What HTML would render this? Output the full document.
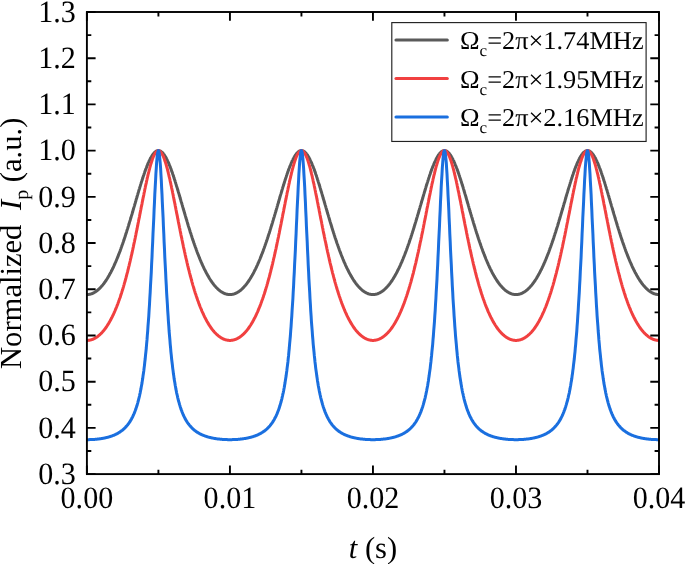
<!DOCTYPE html>
<html><head><meta charset="utf-8"><title>chart</title>
<style>
html,body{margin:0;padding:0;background:#fff;}
body{width:685px;height:564px;overflow:hidden;font-family:"Liberation Serif",serif;}
svg{display:block;will-change:transform;}
text{font-family:"Liberation Serif",serif;fill:#000;text-rendering:geometricPrecision;}
</style></head><body>
<svg width="685" height="564" viewBox="0 0 685 564">
<rect width="685" height="564" fill="#fff"/>
<defs><clipPath id="c"><rect x="86.90" y="12.00" width="572.10" height="462.10"/></clipPath></defs>
<g clip-path="url(#c)" fill="none" stroke-width="3.0" stroke-linejoin="round">
<path d="M86.9,294.6L87.3,294.6L87.6,294.6L88.0,294.5L88.3,294.5L88.7,294.5L89.0,294.4L89.4,294.3L89.8,294.3L90.1,294.2L90.5,294.1L90.8,294.0L91.2,293.9L91.5,293.8L91.9,293.6L92.3,293.5L92.6,293.3L93.0,293.2L93.3,293.0L93.7,292.8L94.1,292.6L94.4,292.4L94.8,292.2L95.1,292.0L95.5,291.8L95.8,291.5L96.2,291.3L96.6,291.0L96.9,290.8L97.3,290.5L97.6,290.2L98.0,289.9L98.3,289.6L98.7,289.3L99.1,288.9L99.4,288.6L99.8,288.2L100.1,287.9L100.5,287.5L100.8,287.1L101.2,286.7L101.6,286.3L101.9,285.9L102.3,285.5L102.6,285.1L103.0,284.6L103.3,284.2L103.7,283.7L104.1,283.2L104.4,282.8L104.8,282.3L105.1,281.8L105.5,281.2L105.9,280.7L106.2,280.2L106.6,279.6L106.9,279.1L107.3,278.5L107.6,277.9L108.0,277.3L108.4,276.7L108.7,276.1L109.1,275.5L109.4,274.8L109.8,274.2L110.1,273.5L110.5,272.9L110.9,272.2L111.2,271.5L111.6,270.8L111.9,270.1L112.3,269.4L112.6,268.6L113.0,267.9L113.4,267.2L113.7,266.4L114.1,265.6L114.4,264.8L114.8,264.0L115.1,263.2L115.5,262.4L115.9,261.6L116.2,260.7L116.6,259.9L116.9,259.0L117.3,258.1L117.7,257.2L118.0,256.4L118.4,255.4L118.7,254.5L119.1,253.6L119.4,252.7L119.8,251.7L120.2,250.8L120.5,249.8L120.9,248.8L121.2,247.8L121.6,246.8L121.9,245.8L122.3,244.8L122.7,243.8L123.0,242.7L123.4,241.7L123.7,240.6L124.1,239.6L124.4,238.5L124.8,237.4L125.2,236.3L125.5,235.2L125.9,234.1L126.2,233.0L126.6,231.9L126.9,230.7L127.3,229.6L127.7,228.4L128.0,227.3L128.4,226.1L128.7,225.0L129.1,223.8L129.4,222.6L129.8,221.4L130.2,220.2L130.5,219.0L130.9,217.8L131.2,216.6L131.6,215.4L132.0,214.2L132.3,213.0L132.7,211.8L133.0,210.5L133.4,209.3L133.7,208.1L134.1,206.9L134.5,205.6L134.8,204.4L135.2,203.2L135.5,202.0L135.9,200.7L136.2,199.5L136.6,198.3L137.0,197.0L137.3,195.8L137.7,194.6L138.0,193.4L138.4,192.2L138.7,191.0L139.1,189.8L139.5,188.6L139.8,187.4L140.2,186.2L140.5,185.1L140.9,183.9L141.2,182.8L141.6,181.6L142.0,180.5L142.3,179.4L142.7,178.3L143.0,177.2L143.4,176.1L143.8,175.0L144.1,174.0L144.5,172.9L144.8,171.9L145.2,170.9L145.5,169.9L145.9,168.9L146.3,168.0L146.6,167.1L147.0,166.2L147.3,165.3L147.7,164.4L148.0,163.5L148.4,162.7L148.8,161.9L149.1,161.1L149.5,160.4L149.8,159.6L150.2,158.9L150.5,158.2L150.9,157.6L151.3,157.0L151.6,156.4L152.0,155.8L152.3,155.2L152.7,154.7L153.0,154.2L153.4,153.8L153.8,153.3L154.1,153.0L154.5,152.6L154.8,152.2L155.2,151.9L155.6,151.7L155.9,151.4L156.3,151.2L156.6,151.0L157.0,150.9L157.3,150.8L157.7,150.7L158.1,150.6L158.4,150.6L158.8,150.6L159.1,150.7L159.5,150.8L159.8,150.9L160.2,151.0L160.6,151.2L160.9,151.4L161.3,151.7L161.6,151.9L162.0,152.2L162.3,152.6L162.7,153.0L163.1,153.3L163.4,153.8L163.8,154.2L164.1,154.7L164.5,155.2L164.8,155.8L165.2,156.4L165.6,157.0L165.9,157.6L166.3,158.2L166.6,158.9L167.0,159.6L167.4,160.4L167.7,161.1L168.1,161.9L168.4,162.7L168.8,163.5L169.1,164.4L169.5,165.3L169.9,166.2L170.2,167.1L170.6,168.0L170.9,168.9L171.3,169.9L171.6,170.9L172.0,171.9L172.4,172.9L172.7,174.0L173.1,175.0L173.4,176.1L173.8,177.2L174.1,178.3L174.5,179.4L174.9,180.5L175.2,181.6L175.6,182.8L175.9,183.9L176.3,185.1L176.6,186.2L177.0,187.4L177.4,188.6L177.7,189.8L178.1,191.0L178.4,192.2L178.8,193.4L179.2,194.6L179.5,195.8L179.9,197.0L180.2,198.3L180.6,199.5L180.9,200.7L181.3,202.0L181.7,203.2L182.0,204.4L182.4,205.6L182.7,206.9L183.1,208.1L183.4,209.3L183.8,210.5L184.2,211.8L184.5,213.0L184.9,214.2L185.2,215.4L185.6,216.6L185.9,217.8L186.3,219.0L186.7,220.2L187.0,221.4L187.4,222.6L187.7,223.8L188.1,225.0L188.4,226.1L188.8,227.3L189.2,228.4L189.5,229.6L189.9,230.7L190.2,231.9L190.6,233.0L191.0,234.1L191.3,235.2L191.7,236.3L192.0,237.4L192.4,238.5L192.7,239.6L193.1,240.6L193.5,241.7L193.8,242.7L194.2,243.8L194.5,244.8L194.9,245.8L195.2,246.8L195.6,247.8L196.0,248.8L196.3,249.8L196.7,250.8L197.0,251.7L197.4,252.7L197.7,253.6L198.1,254.5L198.5,255.4L198.8,256.4L199.2,257.2L199.5,258.1L199.9,259.0L200.2,259.9L200.6,260.7L201.0,261.6L201.3,262.4L201.7,263.2L202.0,264.0L202.4,264.8L202.8,265.6L203.1,266.4L203.5,267.2L203.8,267.9L204.2,268.6L204.5,269.4L204.9,270.1L205.3,270.8L205.6,271.5L206.0,272.2L206.3,272.9L206.7,273.5L207.0,274.2L207.4,274.8L207.8,275.5L208.1,276.1L208.5,276.7L208.8,277.3L209.2,277.9L209.5,278.5L209.9,279.1L210.3,279.6L210.6,280.2L211.0,280.7L211.3,281.2L211.7,281.8L212.0,282.3L212.4,282.8L212.8,283.2L213.1,283.7L213.5,284.2L213.8,284.6L214.2,285.1L214.5,285.5L214.9,285.9L215.3,286.3L215.6,286.7L216.0,287.1L216.3,287.5L216.7,287.9L217.1,288.2L217.4,288.6L217.8,288.9L218.1,289.3L218.5,289.6L218.8,289.9L219.2,290.2L219.6,290.5L219.9,290.8L220.3,291.0L220.6,291.3L221.0,291.5L221.3,291.8L221.7,292.0L222.1,292.2L222.4,292.4L222.8,292.6L223.1,292.8L223.5,293.0L223.8,293.2L224.2,293.3L224.6,293.5L224.9,293.6L225.3,293.8L225.6,293.9L226.0,294.0L226.3,294.1L226.7,294.2L227.1,294.3L227.4,294.3L227.8,294.4L228.1,294.5L228.5,294.5L228.9,294.5L229.2,294.6L229.6,294.6L229.9,294.6L230.3,294.6L230.6,294.6L231.0,294.5L231.4,294.5L231.7,294.5L232.1,294.4L232.4,294.3L232.8,294.3L233.1,294.2L233.5,294.1L233.9,294.0L234.2,293.9L234.6,293.8L234.9,293.6L235.3,293.5L235.6,293.3L236.0,293.2L236.4,293.0L236.7,292.8L237.1,292.6L237.4,292.4L237.8,292.2L238.1,292.0L238.5,291.8L238.9,291.5L239.2,291.3L239.6,291.0L239.9,290.8L240.3,290.5L240.7,290.2L241.0,289.9L241.4,289.6L241.7,289.3L242.1,288.9L242.4,288.6L242.8,288.2L243.2,287.9L243.5,287.5L243.9,287.1L244.2,286.7L244.6,286.3L244.9,285.9L245.3,285.5L245.7,285.1L246.0,284.6L246.4,284.2L246.7,283.7L247.1,283.2L247.4,282.8L247.8,282.3L248.2,281.8L248.5,281.2L248.9,280.7L249.2,280.2L249.6,279.6L249.9,279.1L250.3,278.5L250.7,277.9L251.0,277.3L251.4,276.7L251.7,276.1L252.1,275.5L252.5,274.8L252.8,274.2L253.2,273.5L253.5,272.9L253.9,272.2L254.2,271.5L254.6,270.8L255.0,270.1L255.3,269.4L255.7,268.6L256.0,267.9L256.4,267.2L256.7,266.4L257.1,265.6L257.5,264.8L257.8,264.0L258.2,263.2L258.5,262.4L258.9,261.6L259.2,260.7L259.6,259.9L260.0,259.0L260.3,258.1L260.7,257.2L261.0,256.4L261.4,255.4L261.7,254.5L262.1,253.6L262.5,252.7L262.8,251.7L263.2,250.8L263.5,249.8L263.9,248.8L264.3,247.8L264.6,246.8L265.0,245.8L265.3,244.8L265.7,243.8L266.0,242.7L266.4,241.7L266.8,240.6L267.1,239.6L267.5,238.5L267.8,237.4L268.2,236.3L268.5,235.2L268.9,234.1L269.3,233.0L269.6,231.9L270.0,230.7L270.3,229.6L270.7,228.4L271.0,227.3L271.4,226.1L271.8,225.0L272.1,223.8L272.5,222.6L272.8,221.4L273.2,220.2L273.5,219.0L273.9,217.8L274.3,216.6L274.6,215.4L275.0,214.2L275.3,213.0L275.7,211.8L276.1,210.5L276.4,209.3L276.8,208.1L277.1,206.9L277.5,205.6L277.8,204.4L278.2,203.2L278.6,202.0L278.9,200.7L279.3,199.5L279.6,198.3L280.0,197.0L280.3,195.8L280.7,194.6L281.1,193.4L281.4,192.2L281.8,191.0L282.1,189.8L282.5,188.6L282.8,187.4L283.2,186.2L283.6,185.1L283.9,183.9L284.3,182.8L284.6,181.6L285.0,180.5L285.3,179.4L285.7,178.3L286.1,177.2L286.4,176.1L286.8,175.0L287.1,174.0L287.5,172.9L287.9,171.9L288.2,170.9L288.6,169.9L288.9,168.9L289.3,168.0L289.6,167.1L290.0,166.2L290.4,165.3L290.7,164.4L291.1,163.5L291.4,162.7L291.8,161.9L292.1,161.1L292.5,160.4L292.9,159.6L293.2,158.9L293.6,158.2L293.9,157.6L294.3,157.0L294.6,156.4L295.0,155.8L295.4,155.2L295.7,154.7L296.1,154.2L296.4,153.8L296.8,153.3L297.1,153.0L297.5,152.6L297.9,152.2L298.2,151.9L298.6,151.7L298.9,151.4L299.3,151.2L299.6,151.0L300.0,150.9L300.4,150.8L300.7,150.7L301.1,150.6L301.4,150.6L301.8,150.6L302.2,150.7L302.5,150.8L302.9,150.9L303.2,151.0L303.6,151.2L303.9,151.4L304.3,151.7L304.7,151.9L305.0,152.2L305.4,152.6L305.7,153.0L306.1,153.3L306.4,153.8L306.8,154.2L307.2,154.7L307.5,155.2L307.9,155.8L308.2,156.4L308.6,157.0L308.9,157.6L309.3,158.2L309.7,158.9L310.0,159.6L310.4,160.4L310.7,161.1L311.1,161.9L311.4,162.7L311.8,163.5L312.2,164.4L312.5,165.3L312.9,166.2L313.2,167.1L313.6,168.0L314.0,168.9L314.3,169.9L314.7,170.9L315.0,171.9L315.4,172.9L315.7,174.0L316.1,175.0L316.5,176.1L316.8,177.2L317.2,178.3L317.5,179.4L317.9,180.5L318.2,181.6L318.6,182.8L319.0,183.9L319.3,185.1L319.7,186.2L320.0,187.4L320.4,188.6L320.7,189.8L321.1,191.0L321.5,192.2L321.8,193.4L322.2,194.6L322.5,195.8L322.9,197.0L323.2,198.3L323.6,199.5L324.0,200.7L324.3,202.0L324.7,203.2L325.0,204.4L325.4,205.6L325.8,206.9L326.1,208.1L326.5,209.3L326.8,210.5L327.2,211.8L327.5,213.0L327.9,214.2L328.3,215.4L328.6,216.6L329.0,217.8L329.3,219.0L329.7,220.2L330.0,221.4L330.4,222.6L330.8,223.8L331.1,225.0L331.5,226.1L331.8,227.3L332.2,228.4L332.5,229.6L332.9,230.7L333.3,231.9L333.6,233.0L334.0,234.1L334.3,235.2L334.7,236.3L335.0,237.4L335.4,238.5L335.8,239.6L336.1,240.6L336.5,241.7L336.8,242.7L337.2,243.8L337.6,244.8L337.9,245.8L338.3,246.8L338.6,247.8L339.0,248.8L339.3,249.8L339.7,250.8L340.1,251.7L340.4,252.7L340.8,253.6L341.1,254.5L341.5,255.4L341.8,256.4L342.2,257.2L342.6,258.1L342.9,259.0L343.3,259.9L343.6,260.7L344.0,261.6L344.3,262.4L344.7,263.2L345.1,264.0L345.4,264.8L345.8,265.6L346.1,266.4L346.5,267.2L346.8,267.9L347.2,268.6L347.6,269.4L347.9,270.1L348.3,270.8L348.6,271.5L349.0,272.2L349.4,272.9L349.7,273.5L350.1,274.2L350.4,274.8L350.8,275.5L351.1,276.1L351.5,276.7L351.9,277.3L352.2,277.9L352.6,278.5L352.9,279.1L353.3,279.6L353.6,280.2L354.0,280.7L354.4,281.2L354.7,281.8L355.1,282.3L355.4,282.8L355.8,283.2L356.1,283.7L356.5,284.2L356.9,284.6L357.2,285.1L357.6,285.5L357.9,285.9L358.3,286.3L358.6,286.7L359.0,287.1L359.4,287.5L359.7,287.9L360.1,288.2L360.4,288.6L360.8,288.9L361.2,289.3L361.5,289.6L361.9,289.9L362.2,290.2L362.6,290.5L362.9,290.8L363.3,291.0L363.7,291.3L364.0,291.5L364.4,291.8L364.7,292.0L365.1,292.2L365.4,292.4L365.8,292.6L366.2,292.8L366.5,293.0L366.9,293.2L367.2,293.3L367.6,293.5L367.9,293.6L368.3,293.8L368.7,293.9L369.0,294.0L369.4,294.1L369.7,294.2L370.1,294.3L370.4,294.3L370.8,294.4L371.2,294.5L371.5,294.5L371.9,294.5L372.2,294.6L372.6,294.6L373.0,294.6L373.3,294.6L373.7,294.6L374.0,294.5L374.4,294.5L374.7,294.5L375.1,294.4L375.5,294.3L375.8,294.3L376.2,294.2L376.5,294.1L376.9,294.0L377.2,293.9L377.6,293.8L378.0,293.6L378.3,293.5L378.7,293.3L379.0,293.2L379.4,293.0L379.7,292.8L380.1,292.6L380.5,292.4L380.8,292.2L381.2,292.0L381.5,291.8L381.9,291.5L382.2,291.3L382.6,291.0L383.0,290.8L383.3,290.5L383.7,290.2L384.0,289.9L384.4,289.6L384.7,289.3L385.1,288.9L385.5,288.6L385.8,288.2L386.2,287.9L386.5,287.5L386.9,287.1L387.3,286.7L387.6,286.3L388.0,285.9L388.3,285.5L388.7,285.1L389.0,284.6L389.4,284.2L389.8,283.7L390.1,283.2L390.5,282.8L390.8,282.3L391.2,281.8L391.5,281.2L391.9,280.7L392.3,280.2L392.6,279.6L393.0,279.1L393.3,278.5L393.7,277.9L394.0,277.3L394.4,276.7L394.8,276.1L395.1,275.5L395.5,274.8L395.8,274.2L396.2,273.5L396.5,272.9L396.9,272.2L397.3,271.5L397.6,270.8L398.0,270.1L398.3,269.4L398.7,268.6L399.1,267.9L399.4,267.2L399.8,266.4L400.1,265.6L400.5,264.8L400.8,264.0L401.2,263.2L401.6,262.4L401.9,261.6L402.3,260.7L402.6,259.9L403.0,259.0L403.3,258.1L403.7,257.2L404.1,256.4L404.4,255.4L404.8,254.5L405.1,253.6L405.5,252.7L405.8,251.7L406.2,250.8L406.6,249.8L406.9,248.8L407.3,247.8L407.6,246.8L408.0,245.8L408.3,244.8L408.7,243.8L409.1,242.7L409.4,241.7L409.8,240.6L410.1,239.6L410.5,238.5L410.9,237.4L411.2,236.3L411.6,235.2L411.9,234.1L412.3,233.0L412.6,231.9L413.0,230.7L413.4,229.6L413.7,228.4L414.1,227.3L414.4,226.1L414.8,225.0L415.1,223.8L415.5,222.6L415.9,221.4L416.2,220.2L416.6,219.0L416.9,217.8L417.3,216.6L417.6,215.4L418.0,214.2L418.4,213.0L418.7,211.8L419.1,210.5L419.4,209.3L419.8,208.1L420.1,206.9L420.5,205.6L420.9,204.4L421.2,203.2L421.6,202.0L421.9,200.7L422.3,199.5L422.7,198.3L423.0,197.0L423.4,195.8L423.7,194.6L424.1,193.4L424.4,192.2L424.8,191.0L425.2,189.8L425.5,188.6L425.9,187.4L426.2,186.2L426.6,185.1L426.9,183.9L427.3,182.8L427.7,181.6L428.0,180.5L428.4,179.4L428.7,178.3L429.1,177.2L429.4,176.1L429.8,175.0L430.2,174.0L430.5,172.9L430.9,171.9L431.2,170.9L431.6,169.9L431.9,168.9L432.3,168.0L432.7,167.1L433.0,166.2L433.4,165.3L433.7,164.4L434.1,163.5L434.5,162.7L434.8,161.9L435.2,161.1L435.5,160.4L435.9,159.6L436.2,158.9L436.6,158.2L437.0,157.6L437.3,157.0L437.7,156.4L438.0,155.8L438.4,155.2L438.7,154.7L439.1,154.2L439.5,153.8L439.8,153.3L440.2,153.0L440.5,152.6L440.9,152.2L441.2,151.9L441.6,151.7L442.0,151.4L442.3,151.2L442.7,151.0L443.0,150.9L443.4,150.8L443.7,150.7L444.1,150.6L444.5,150.6L444.8,150.6L445.2,150.7L445.5,150.8L445.9,150.9L446.3,151.0L446.6,151.2L447.0,151.4L447.3,151.7L447.7,151.9L448.0,152.2L448.4,152.6L448.8,153.0L449.1,153.3L449.5,153.8L449.8,154.2L450.2,154.7L450.5,155.2L450.9,155.8L451.3,156.4L451.6,157.0L452.0,157.6L452.3,158.2L452.7,158.9L453.0,159.6L453.4,160.4L453.8,161.1L454.1,161.9L454.5,162.7L454.8,163.5L455.2,164.4L455.5,165.3L455.9,166.2L456.3,167.1L456.6,168.0L457.0,168.9L457.3,169.9L457.7,170.9L458.0,171.9L458.4,172.9L458.8,174.0L459.1,175.0L459.5,176.1L459.8,177.2L460.2,178.3L460.6,179.4L460.9,180.5L461.3,181.6L461.6,182.8L462.0,183.9L462.3,185.1L462.7,186.2L463.1,187.4L463.4,188.6L463.8,189.8L464.1,191.0L464.5,192.2L464.8,193.4L465.2,194.6L465.6,195.8L465.9,197.0L466.3,198.3L466.6,199.5L467.0,200.7L467.3,202.0L467.7,203.2L468.1,204.4L468.4,205.6L468.8,206.9L469.1,208.1L469.5,209.3L469.8,210.5L470.2,211.8L470.6,213.0L470.9,214.2L471.3,215.4L471.6,216.6L472.0,217.8L472.4,219.0L472.7,220.2L473.1,221.4L473.4,222.6L473.8,223.8L474.1,225.0L474.5,226.1L474.9,227.3L475.2,228.4L475.6,229.6L475.9,230.7L476.3,231.9L476.6,233.0L477.0,234.1L477.4,235.2L477.7,236.3L478.1,237.4L478.4,238.5L478.8,239.6L479.1,240.6L479.5,241.7L479.9,242.7L480.2,243.8L480.6,244.8L480.9,245.8L481.3,246.8L481.6,247.8L482.0,248.8L482.4,249.8L482.7,250.8L483.1,251.7L483.4,252.7L483.8,253.6L484.2,254.5L484.5,255.4L484.9,256.4L485.2,257.2L485.6,258.1L485.9,259.0L486.3,259.9L486.7,260.7L487.0,261.6L487.4,262.4L487.7,263.2L488.1,264.0L488.4,264.8L488.8,265.6L489.2,266.4L489.5,267.2L489.9,267.9L490.2,268.6L490.6,269.4L490.9,270.1L491.3,270.8L491.7,271.5L492.0,272.2L492.4,272.9L492.7,273.5L493.1,274.2L493.4,274.8L493.8,275.5L494.2,276.1L494.5,276.7L494.9,277.3L495.2,277.9L495.6,278.5L496.0,279.1L496.3,279.6L496.7,280.2L497.0,280.7L497.4,281.2L497.7,281.8L498.1,282.3L498.5,282.8L498.8,283.2L499.2,283.7L499.5,284.2L499.9,284.6L500.2,285.1L500.6,285.5L501.0,285.9L501.3,286.3L501.7,286.7L502.0,287.1L502.4,287.5L502.7,287.9L503.1,288.2L503.5,288.6L503.8,288.9L504.2,289.3L504.5,289.6L504.9,289.9L505.2,290.2L505.6,290.5L506.0,290.8L506.3,291.0L506.7,291.3L507.0,291.5L507.4,291.8L507.8,292.0L508.1,292.2L508.5,292.4L508.8,292.6L509.2,292.8L509.5,293.0L509.9,293.2L510.3,293.3L510.6,293.5L511.0,293.6L511.3,293.8L511.7,293.9L512.0,294.0L512.4,294.1L512.8,294.2L513.1,294.3L513.5,294.3L513.8,294.4L514.2,294.5L514.5,294.5L514.9,294.5L515.3,294.6L515.6,294.6L516.0,294.6L516.3,294.6L516.7,294.6L517.0,294.5L517.4,294.5L517.8,294.5L518.1,294.4L518.5,294.3L518.8,294.3L519.2,294.2L519.6,294.1L519.9,294.0L520.3,293.9L520.6,293.8L521.0,293.6L521.3,293.5L521.7,293.3L522.1,293.2L522.4,293.0L522.8,292.8L523.1,292.6L523.5,292.4L523.8,292.2L524.2,292.0L524.6,291.8L524.9,291.5L525.3,291.3L525.6,291.0L526.0,290.8L526.3,290.5L526.7,290.2L527.1,289.9L527.4,289.6L527.8,289.3L528.1,288.9L528.5,288.6L528.8,288.2L529.2,287.9L529.6,287.5L529.9,287.1L530.3,286.7L530.6,286.3L531.0,285.9L531.4,285.5L531.7,285.1L532.1,284.6L532.4,284.2L532.8,283.7L533.1,283.2L533.5,282.8L533.9,282.3L534.2,281.8L534.6,281.2L534.9,280.7L535.3,280.2L535.6,279.6L536.0,279.1L536.4,278.5L536.7,277.9L537.1,277.3L537.4,276.7L537.8,276.1L538.1,275.5L538.5,274.8L538.9,274.2L539.2,273.5L539.6,272.9L539.9,272.2L540.3,271.5L540.6,270.8L541.0,270.1L541.4,269.4L541.7,268.6L542.1,267.9L542.4,267.2L542.8,266.4L543.1,265.6L543.5,264.8L543.9,264.0L544.2,263.2L544.6,262.4L544.9,261.6L545.3,260.7L545.7,259.9L546.0,259.0L546.4,258.1L546.7,257.2L547.1,256.4L547.4,255.4L547.8,254.5L548.2,253.6L548.5,252.7L548.9,251.7L549.2,250.8L549.6,249.8L549.9,248.8L550.3,247.8L550.7,246.8L551.0,245.8L551.4,244.8L551.7,243.8L552.1,242.7L552.4,241.7L552.8,240.6L553.2,239.6L553.5,238.5L553.9,237.4L554.2,236.3L554.6,235.2L554.9,234.1L555.3,233.0L555.7,231.9L556.0,230.7L556.4,229.6L556.7,228.4L557.1,227.3L557.5,226.1L557.8,225.0L558.2,223.8L558.5,222.6L558.9,221.4L559.2,220.2L559.6,219.0L560.0,217.8L560.3,216.6L560.7,215.4L561.0,214.2L561.4,213.0L561.7,211.8L562.1,210.5L562.5,209.3L562.8,208.1L563.2,206.9L563.5,205.6L563.9,204.4L564.2,203.2L564.6,202.0L565.0,200.7L565.3,199.5L565.7,198.3L566.0,197.0L566.4,195.8L566.7,194.6L567.1,193.4L567.5,192.2L567.8,191.0L568.2,189.8L568.5,188.6L568.9,187.4L569.3,186.2L569.6,185.1L570.0,183.9L570.3,182.8L570.7,181.6L571.0,180.5L571.4,179.4L571.8,178.3L572.1,177.2L572.5,176.1L572.8,175.0L573.2,174.0L573.5,172.9L573.9,171.9L574.3,170.9L574.6,169.9L575.0,168.9L575.3,168.0L575.7,167.1L576.0,166.2L576.4,165.3L576.8,164.4L577.1,163.5L577.5,162.7L577.8,161.9L578.2,161.1L578.5,160.4L578.9,159.6L579.3,158.9L579.6,158.2L580.0,157.6L580.3,157.0L580.7,156.4L581.1,155.8L581.4,155.2L581.8,154.7L582.1,154.2L582.5,153.8L582.8,153.3L583.2,153.0L583.6,152.6L583.9,152.2L584.3,151.9L584.6,151.7L585.0,151.4L585.3,151.2L585.7,151.0L586.1,150.9L586.4,150.8L586.8,150.7L587.1,150.6L587.5,150.6L587.8,150.6L588.2,150.7L588.6,150.8L588.9,150.9L589.3,151.0L589.6,151.2L590.0,151.4L590.3,151.7L590.7,151.9L591.1,152.2L591.4,152.6L591.8,153.0L592.1,153.3L592.5,153.8L592.9,154.2L593.2,154.7L593.6,155.2L593.9,155.8L594.3,156.4L594.6,157.0L595.0,157.6L595.4,158.2L595.7,158.9L596.1,159.6L596.4,160.4L596.8,161.1L597.1,161.9L597.5,162.7L597.9,163.5L598.2,164.4L598.6,165.3L598.9,166.2L599.3,167.1L599.6,168.0L600.0,168.9L600.4,169.9L600.7,170.9L601.1,171.9L601.4,172.9L601.8,174.0L602.1,175.0L602.5,176.1L602.9,177.2L603.2,178.3L603.6,179.4L603.9,180.5L604.3,181.6L604.7,182.8L605.0,183.9L605.4,185.1L605.7,186.2L606.1,187.4L606.4,188.6L606.8,189.8L607.2,191.0L607.5,192.2L607.9,193.4L608.2,194.6L608.6,195.8L608.9,197.0L609.3,198.3L609.7,199.5L610.0,200.7L610.4,202.0L610.7,203.2L611.1,204.4L611.4,205.6L611.8,206.9L612.2,208.1L612.5,209.3L612.9,210.5L613.2,211.8L613.6,213.0L613.9,214.2L614.3,215.4L614.7,216.6L615.0,217.8L615.4,219.0L615.7,220.2L616.1,221.4L616.5,222.6L616.8,223.8L617.2,225.0L617.5,226.1L617.9,227.3L618.2,228.4L618.6,229.6L619.0,230.7L619.3,231.9L619.7,233.0L620.0,234.1L620.4,235.2L620.7,236.3L621.1,237.4L621.5,238.5L621.8,239.6L622.2,240.6L622.5,241.7L622.9,242.7L623.2,243.8L623.6,244.8L624.0,245.8L624.3,246.8L624.7,247.8L625.0,248.8L625.4,249.8L625.7,250.8L626.1,251.7L626.5,252.7L626.8,253.6L627.2,254.5L627.5,255.4L627.9,256.4L628.2,257.2L628.6,258.1L629.0,259.0L629.3,259.9L629.7,260.7L630.0,261.6L630.4,262.4L630.8,263.2L631.1,264.0L631.5,264.8L631.8,265.6L632.2,266.4L632.5,267.2L632.9,267.9L633.3,268.6L633.6,269.4L634.0,270.1L634.3,270.8L634.7,271.5L635.0,272.2L635.4,272.9L635.8,273.5L636.1,274.2L636.5,274.8L636.8,275.5L637.2,276.1L637.5,276.7L637.9,277.3L638.3,277.9L638.6,278.5L639.0,279.1L639.3,279.6L639.7,280.2L640.0,280.7L640.4,281.2L640.8,281.8L641.1,282.3L641.5,282.8L641.8,283.2L642.2,283.7L642.6,284.2L642.9,284.6L643.3,285.1L643.6,285.5L644.0,285.9L644.3,286.3L644.7,286.7L645.1,287.1L645.4,287.5L645.8,287.9L646.1,288.2L646.5,288.6L646.8,288.9L647.2,289.3L647.6,289.6L647.9,289.9L648.3,290.2L648.6,290.5L649.0,290.8L649.3,291.0L649.7,291.3L650.1,291.5L650.4,291.8L650.8,292.0L651.1,292.2L651.5,292.4L651.8,292.6L652.2,292.8L652.6,293.0L652.9,293.2L653.3,293.3L653.6,293.5L654.0,293.6L654.4,293.8L654.7,293.9L655.1,294.0L655.4,294.1L655.8,294.2L656.1,294.3L656.5,294.3L656.9,294.4L657.2,294.5L657.6,294.5L657.9,294.5L658.3,294.6L658.6,294.6L659.0,294.6" stroke="#5a5a5a"/>
<path d="M86.9,340.4L87.3,340.4L87.6,340.4L88.0,340.4L88.3,340.3L88.7,340.3L89.0,340.3L89.4,340.2L89.8,340.1L90.1,340.1L90.5,340.0L90.8,339.9L91.2,339.8L91.5,339.7L91.9,339.6L92.3,339.4L92.6,339.3L93.0,339.2L93.3,339.0L93.7,338.9L94.1,338.7L94.4,338.5L94.8,338.3L95.1,338.1L95.5,337.9L95.8,337.7L96.2,337.5L96.6,337.2L96.9,337.0L97.3,336.7L97.6,336.5L98.0,336.2L98.3,335.9L98.7,335.6L99.1,335.3L99.4,335.0L99.8,334.7L100.1,334.4L100.5,334.0L100.8,333.7L101.2,333.3L101.6,333.0L101.9,332.6L102.3,332.2L102.6,331.8L103.0,331.4L103.3,331.0L103.7,330.5L104.1,330.1L104.4,329.6L104.8,329.2L105.1,328.7L105.5,328.2L105.9,327.7L106.2,327.2L106.6,326.7L106.9,326.1L107.3,325.6L107.6,325.0L108.0,324.5L108.4,323.9L108.7,323.3L109.1,322.7L109.4,322.1L109.8,321.5L110.1,320.8L110.5,320.2L110.9,319.5L111.2,318.8L111.6,318.1L111.9,317.4L112.3,316.7L112.6,316.0L113.0,315.2L113.4,314.5L113.7,313.7L114.1,312.9L114.4,312.1L114.8,311.3L115.1,310.5L115.5,309.6L115.9,308.7L116.2,307.9L116.6,307.0L116.9,306.1L117.3,305.2L117.7,304.2L118.0,303.3L118.4,302.3L118.7,301.3L119.1,300.3L119.4,299.3L119.8,298.3L120.2,297.2L120.5,296.2L120.9,295.1L121.2,294.0L121.6,292.9L121.9,291.8L122.3,290.6L122.7,289.5L123.0,288.3L123.4,287.1L123.7,285.9L124.1,284.6L124.4,283.4L124.8,282.1L125.2,280.8L125.5,279.5L125.9,278.2L126.2,276.9L126.6,275.5L126.9,274.2L127.3,272.8L127.7,271.4L128.0,269.9L128.4,268.5L128.7,267.0L129.1,265.6L129.4,264.1L129.8,262.6L130.2,261.0L130.5,259.5L130.9,257.9L131.2,256.4L131.6,254.8L132.0,253.2L132.3,251.6L132.7,249.9L133.0,248.3L133.4,246.6L133.7,244.9L134.1,243.2L134.5,241.5L134.8,239.8L135.2,238.1L135.5,236.3L135.9,234.6L136.2,232.8L136.6,231.0L137.0,229.2L137.3,227.5L137.7,225.7L138.0,223.8L138.4,222.0L138.7,220.2L139.1,218.4L139.5,216.6L139.8,214.7L140.2,212.9L140.5,211.1L140.9,209.2L141.2,207.4L141.6,205.6L142.0,203.8L142.3,202.0L142.7,200.2L143.0,198.4L143.4,196.6L143.8,194.8L144.1,193.0L144.5,191.3L144.8,189.5L145.2,187.8L145.5,186.1L145.9,184.4L146.3,182.8L146.6,181.1L147.0,179.5L147.3,177.9L147.7,176.4L148.0,174.9L148.4,173.4L148.8,171.9L149.1,170.5L149.5,169.1L149.8,167.7L150.2,166.4L150.5,165.2L150.9,163.9L151.3,162.8L151.6,161.6L152.0,160.6L152.3,159.5L152.7,158.5L153.0,157.6L153.4,156.7L153.8,155.9L154.1,155.1L154.5,154.4L154.8,153.8L155.2,153.2L155.6,152.7L155.9,152.2L156.3,151.8L156.6,151.4L157.0,151.1L157.3,150.9L157.7,150.8L158.1,150.7L158.4,150.6L158.8,150.7L159.1,150.8L159.5,150.9L159.8,151.1L160.2,151.4L160.6,151.8L160.9,152.2L161.3,152.7L161.6,153.2L162.0,153.8L162.3,154.4L162.7,155.1L163.1,155.9L163.4,156.7L163.8,157.6L164.1,158.5L164.5,159.5L164.8,160.6L165.2,161.6L165.6,162.8L165.9,163.9L166.3,165.2L166.6,166.4L167.0,167.7L167.4,169.1L167.7,170.5L168.1,171.9L168.4,173.4L168.8,174.9L169.1,176.4L169.5,177.9L169.9,179.5L170.2,181.1L170.6,182.8L170.9,184.4L171.3,186.1L171.6,187.8L172.0,189.5L172.4,191.3L172.7,193.0L173.1,194.8L173.4,196.6L173.8,198.4L174.1,200.2L174.5,202.0L174.9,203.8L175.2,205.6L175.6,207.4L175.9,209.2L176.3,211.1L176.6,212.9L177.0,214.7L177.4,216.6L177.7,218.4L178.1,220.2L178.4,222.0L178.8,223.8L179.2,225.7L179.5,227.5L179.9,229.2L180.2,231.0L180.6,232.8L180.9,234.6L181.3,236.3L181.7,238.1L182.0,239.8L182.4,241.5L182.7,243.2L183.1,244.9L183.4,246.6L183.8,248.3L184.2,249.9L184.5,251.6L184.9,253.2L185.2,254.8L185.6,256.4L185.9,257.9L186.3,259.5L186.7,261.0L187.0,262.6L187.4,264.1L187.7,265.6L188.1,267.0L188.4,268.5L188.8,269.9L189.2,271.4L189.5,272.8L189.9,274.2L190.2,275.5L190.6,276.9L191.0,278.2L191.3,279.5L191.7,280.8L192.0,282.1L192.4,283.4L192.7,284.6L193.1,285.9L193.5,287.1L193.8,288.3L194.2,289.5L194.5,290.6L194.9,291.8L195.2,292.9L195.6,294.0L196.0,295.1L196.3,296.2L196.7,297.2L197.0,298.3L197.4,299.3L197.7,300.3L198.1,301.3L198.5,302.3L198.8,303.3L199.2,304.2L199.5,305.2L199.9,306.1L200.2,307.0L200.6,307.9L201.0,308.7L201.3,309.6L201.7,310.5L202.0,311.3L202.4,312.1L202.8,312.9L203.1,313.7L203.5,314.5L203.8,315.2L204.2,316.0L204.5,316.7L204.9,317.4L205.3,318.1L205.6,318.8L206.0,319.5L206.3,320.2L206.7,320.8L207.0,321.5L207.4,322.1L207.8,322.7L208.1,323.3L208.5,323.9L208.8,324.5L209.2,325.0L209.5,325.6L209.9,326.1L210.3,326.7L210.6,327.2L211.0,327.7L211.3,328.2L211.7,328.7L212.0,329.2L212.4,329.6L212.8,330.1L213.1,330.5L213.5,331.0L213.8,331.4L214.2,331.8L214.5,332.2L214.9,332.6L215.3,333.0L215.6,333.3L216.0,333.7L216.3,334.0L216.7,334.4L217.1,334.7L217.4,335.0L217.8,335.3L218.1,335.6L218.5,335.9L218.8,336.2L219.2,336.5L219.6,336.7L219.9,337.0L220.3,337.2L220.6,337.5L221.0,337.7L221.3,337.9L221.7,338.1L222.1,338.3L222.4,338.5L222.8,338.7L223.1,338.9L223.5,339.0L223.8,339.2L224.2,339.3L224.6,339.4L224.9,339.6L225.3,339.7L225.6,339.8L226.0,339.9L226.3,340.0L226.7,340.1L227.1,340.1L227.4,340.2L227.8,340.3L228.1,340.3L228.5,340.3L228.9,340.4L229.2,340.4L229.6,340.4L229.9,340.4L230.3,340.4L230.6,340.4L231.0,340.4L231.4,340.3L231.7,340.3L232.1,340.3L232.4,340.2L232.8,340.1L233.1,340.1L233.5,340.0L233.9,339.9L234.2,339.8L234.6,339.7L234.9,339.6L235.3,339.4L235.6,339.3L236.0,339.2L236.4,339.0L236.7,338.9L237.1,338.7L237.4,338.5L237.8,338.3L238.1,338.1L238.5,337.9L238.9,337.7L239.2,337.5L239.6,337.2L239.9,337.0L240.3,336.7L240.7,336.5L241.0,336.2L241.4,335.9L241.7,335.6L242.1,335.3L242.4,335.0L242.8,334.7L243.2,334.4L243.5,334.0L243.9,333.7L244.2,333.3L244.6,333.0L244.9,332.6L245.3,332.2L245.7,331.8L246.0,331.4L246.4,331.0L246.7,330.5L247.1,330.1L247.4,329.6L247.8,329.2L248.2,328.7L248.5,328.2L248.9,327.7L249.2,327.2L249.6,326.7L249.9,326.1L250.3,325.6L250.7,325.0L251.0,324.5L251.4,323.9L251.7,323.3L252.1,322.7L252.5,322.1L252.8,321.5L253.2,320.8L253.5,320.2L253.9,319.5L254.2,318.8L254.6,318.1L255.0,317.4L255.3,316.7L255.7,316.0L256.0,315.2L256.4,314.5L256.7,313.7L257.1,312.9L257.5,312.1L257.8,311.3L258.2,310.5L258.5,309.6L258.9,308.7L259.2,307.9L259.6,307.0L260.0,306.1L260.3,305.2L260.7,304.2L261.0,303.3L261.4,302.3L261.7,301.3L262.1,300.3L262.5,299.3L262.8,298.3L263.2,297.2L263.5,296.2L263.9,295.1L264.3,294.0L264.6,292.9L265.0,291.8L265.3,290.6L265.7,289.5L266.0,288.3L266.4,287.1L266.8,285.9L267.1,284.6L267.5,283.4L267.8,282.1L268.2,280.8L268.5,279.5L268.9,278.2L269.3,276.9L269.6,275.5L270.0,274.2L270.3,272.8L270.7,271.4L271.0,269.9L271.4,268.5L271.8,267.0L272.1,265.6L272.5,264.1L272.8,262.6L273.2,261.0L273.5,259.5L273.9,257.9L274.3,256.4L274.6,254.8L275.0,253.2L275.3,251.6L275.7,249.9L276.1,248.3L276.4,246.6L276.8,244.9L277.1,243.2L277.5,241.5L277.8,239.8L278.2,238.1L278.6,236.3L278.9,234.6L279.3,232.8L279.6,231.0L280.0,229.2L280.3,227.5L280.7,225.7L281.1,223.8L281.4,222.0L281.8,220.2L282.1,218.4L282.5,216.6L282.8,214.7L283.2,212.9L283.6,211.1L283.9,209.2L284.3,207.4L284.6,205.6L285.0,203.8L285.3,202.0L285.7,200.2L286.1,198.4L286.4,196.6L286.8,194.8L287.1,193.0L287.5,191.3L287.9,189.5L288.2,187.8L288.6,186.1L288.9,184.4L289.3,182.8L289.6,181.1L290.0,179.5L290.4,177.9L290.7,176.4L291.1,174.9L291.4,173.4L291.8,171.9L292.1,170.5L292.5,169.1L292.9,167.7L293.2,166.4L293.6,165.2L293.9,163.9L294.3,162.8L294.6,161.6L295.0,160.6L295.4,159.5L295.7,158.5L296.1,157.6L296.4,156.7L296.8,155.9L297.1,155.1L297.5,154.4L297.9,153.8L298.2,153.2L298.6,152.7L298.9,152.2L299.3,151.8L299.6,151.4L300.0,151.1L300.4,150.9L300.7,150.8L301.1,150.7L301.4,150.6L301.8,150.7L302.2,150.8L302.5,150.9L302.9,151.1L303.2,151.4L303.6,151.8L303.9,152.2L304.3,152.7L304.7,153.2L305.0,153.8L305.4,154.4L305.7,155.1L306.1,155.9L306.4,156.7L306.8,157.6L307.2,158.5L307.5,159.5L307.9,160.6L308.2,161.6L308.6,162.8L308.9,163.9L309.3,165.2L309.7,166.4L310.0,167.7L310.4,169.1L310.7,170.5L311.1,171.9L311.4,173.4L311.8,174.9L312.2,176.4L312.5,177.9L312.9,179.5L313.2,181.1L313.6,182.8L314.0,184.4L314.3,186.1L314.7,187.8L315.0,189.5L315.4,191.3L315.7,193.0L316.1,194.8L316.5,196.6L316.8,198.4L317.2,200.2L317.5,202.0L317.9,203.8L318.2,205.6L318.6,207.4L319.0,209.2L319.3,211.1L319.7,212.9L320.0,214.7L320.4,216.6L320.7,218.4L321.1,220.2L321.5,222.0L321.8,223.8L322.2,225.7L322.5,227.5L322.9,229.2L323.2,231.0L323.6,232.8L324.0,234.6L324.3,236.3L324.7,238.1L325.0,239.8L325.4,241.5L325.8,243.2L326.1,244.9L326.5,246.6L326.8,248.3L327.2,249.9L327.5,251.6L327.9,253.2L328.3,254.8L328.6,256.4L329.0,257.9L329.3,259.5L329.7,261.0L330.0,262.6L330.4,264.1L330.8,265.6L331.1,267.0L331.5,268.5L331.8,269.9L332.2,271.4L332.5,272.8L332.9,274.2L333.3,275.5L333.6,276.9L334.0,278.2L334.3,279.5L334.7,280.8L335.0,282.1L335.4,283.4L335.8,284.6L336.1,285.9L336.5,287.1L336.8,288.3L337.2,289.5L337.6,290.6L337.9,291.8L338.3,292.9L338.6,294.0L339.0,295.1L339.3,296.2L339.7,297.2L340.1,298.3L340.4,299.3L340.8,300.3L341.1,301.3L341.5,302.3L341.8,303.3L342.2,304.2L342.6,305.2L342.9,306.1L343.3,307.0L343.6,307.9L344.0,308.7L344.3,309.6L344.7,310.5L345.1,311.3L345.4,312.1L345.8,312.9L346.1,313.7L346.5,314.5L346.8,315.2L347.2,316.0L347.6,316.7L347.9,317.4L348.3,318.1L348.6,318.8L349.0,319.5L349.4,320.2L349.7,320.8L350.1,321.5L350.4,322.1L350.8,322.7L351.1,323.3L351.5,323.9L351.9,324.5L352.2,325.0L352.6,325.6L352.9,326.1L353.3,326.7L353.6,327.2L354.0,327.7L354.4,328.2L354.7,328.7L355.1,329.2L355.4,329.6L355.8,330.1L356.1,330.5L356.5,331.0L356.9,331.4L357.2,331.8L357.6,332.2L357.9,332.6L358.3,333.0L358.6,333.3L359.0,333.7L359.4,334.0L359.7,334.4L360.1,334.7L360.4,335.0L360.8,335.3L361.2,335.6L361.5,335.9L361.9,336.2L362.2,336.5L362.6,336.7L362.9,337.0L363.3,337.2L363.7,337.5L364.0,337.7L364.4,337.9L364.7,338.1L365.1,338.3L365.4,338.5L365.8,338.7L366.2,338.9L366.5,339.0L366.9,339.2L367.2,339.3L367.6,339.4L367.9,339.6L368.3,339.7L368.7,339.8L369.0,339.9L369.4,340.0L369.7,340.1L370.1,340.1L370.4,340.2L370.8,340.3L371.2,340.3L371.5,340.3L371.9,340.4L372.2,340.4L372.6,340.4L373.0,340.4L373.3,340.4L373.7,340.4L374.0,340.4L374.4,340.3L374.7,340.3L375.1,340.3L375.5,340.2L375.8,340.1L376.2,340.1L376.5,340.0L376.9,339.9L377.2,339.8L377.6,339.7L378.0,339.6L378.3,339.4L378.7,339.3L379.0,339.2L379.4,339.0L379.7,338.9L380.1,338.7L380.5,338.5L380.8,338.3L381.2,338.1L381.5,337.9L381.9,337.7L382.2,337.5L382.6,337.2L383.0,337.0L383.3,336.7L383.7,336.5L384.0,336.2L384.4,335.9L384.7,335.6L385.1,335.3L385.5,335.0L385.8,334.7L386.2,334.4L386.5,334.0L386.9,333.7L387.3,333.3L387.6,333.0L388.0,332.6L388.3,332.2L388.7,331.8L389.0,331.4L389.4,331.0L389.8,330.5L390.1,330.1L390.5,329.6L390.8,329.2L391.2,328.7L391.5,328.2L391.9,327.7L392.3,327.2L392.6,326.7L393.0,326.1L393.3,325.6L393.7,325.0L394.0,324.5L394.4,323.9L394.8,323.3L395.1,322.7L395.5,322.1L395.8,321.5L396.2,320.8L396.5,320.2L396.9,319.5L397.3,318.8L397.6,318.1L398.0,317.4L398.3,316.7L398.7,316.0L399.1,315.2L399.4,314.5L399.8,313.7L400.1,312.9L400.5,312.1L400.8,311.3L401.2,310.5L401.6,309.6L401.9,308.7L402.3,307.9L402.6,307.0L403.0,306.1L403.3,305.2L403.7,304.2L404.1,303.3L404.4,302.3L404.8,301.3L405.1,300.3L405.5,299.3L405.8,298.3L406.2,297.2L406.6,296.2L406.9,295.1L407.3,294.0L407.6,292.9L408.0,291.8L408.3,290.6L408.7,289.5L409.1,288.3L409.4,287.1L409.8,285.9L410.1,284.6L410.5,283.4L410.9,282.1L411.2,280.8L411.6,279.5L411.9,278.2L412.3,276.9L412.6,275.5L413.0,274.2L413.4,272.8L413.7,271.4L414.1,269.9L414.4,268.5L414.8,267.0L415.1,265.6L415.5,264.1L415.9,262.6L416.2,261.0L416.6,259.5L416.9,257.9L417.3,256.4L417.6,254.8L418.0,253.2L418.4,251.6L418.7,249.9L419.1,248.3L419.4,246.6L419.8,244.9L420.1,243.2L420.5,241.5L420.9,239.8L421.2,238.1L421.6,236.3L421.9,234.6L422.3,232.8L422.7,231.0L423.0,229.2L423.4,227.5L423.7,225.7L424.1,223.8L424.4,222.0L424.8,220.2L425.2,218.4L425.5,216.6L425.9,214.7L426.2,212.9L426.6,211.1L426.9,209.2L427.3,207.4L427.7,205.6L428.0,203.8L428.4,202.0L428.7,200.2L429.1,198.4L429.4,196.6L429.8,194.8L430.2,193.0L430.5,191.3L430.9,189.5L431.2,187.8L431.6,186.1L431.9,184.4L432.3,182.8L432.7,181.1L433.0,179.5L433.4,177.9L433.7,176.4L434.1,174.9L434.5,173.4L434.8,171.9L435.2,170.5L435.5,169.1L435.9,167.7L436.2,166.4L436.6,165.2L437.0,163.9L437.3,162.8L437.7,161.6L438.0,160.6L438.4,159.5L438.7,158.5L439.1,157.6L439.5,156.7L439.8,155.9L440.2,155.1L440.5,154.4L440.9,153.8L441.2,153.2L441.6,152.7L442.0,152.2L442.3,151.8L442.7,151.4L443.0,151.1L443.4,150.9L443.7,150.8L444.1,150.7L444.5,150.6L444.8,150.7L445.2,150.8L445.5,150.9L445.9,151.1L446.3,151.4L446.6,151.8L447.0,152.2L447.3,152.7L447.7,153.2L448.0,153.8L448.4,154.4L448.8,155.1L449.1,155.9L449.5,156.7L449.8,157.6L450.2,158.5L450.5,159.5L450.9,160.6L451.3,161.6L451.6,162.8L452.0,163.9L452.3,165.2L452.7,166.4L453.0,167.7L453.4,169.1L453.8,170.5L454.1,171.9L454.5,173.4L454.8,174.9L455.2,176.4L455.5,177.9L455.9,179.5L456.3,181.1L456.6,182.8L457.0,184.4L457.3,186.1L457.7,187.8L458.0,189.5L458.4,191.3L458.8,193.0L459.1,194.8L459.5,196.6L459.8,198.4L460.2,200.2L460.6,202.0L460.9,203.8L461.3,205.6L461.6,207.4L462.0,209.2L462.3,211.1L462.7,212.9L463.1,214.7L463.4,216.6L463.8,218.4L464.1,220.2L464.5,222.0L464.8,223.8L465.2,225.7L465.6,227.5L465.9,229.2L466.3,231.0L466.6,232.8L467.0,234.6L467.3,236.3L467.7,238.1L468.1,239.8L468.4,241.5L468.8,243.2L469.1,244.9L469.5,246.6L469.8,248.3L470.2,249.9L470.6,251.6L470.9,253.2L471.3,254.8L471.6,256.4L472.0,257.9L472.4,259.5L472.7,261.0L473.1,262.6L473.4,264.1L473.8,265.6L474.1,267.0L474.5,268.5L474.9,269.9L475.2,271.4L475.6,272.8L475.9,274.2L476.3,275.5L476.6,276.9L477.0,278.2L477.4,279.5L477.7,280.8L478.1,282.1L478.4,283.4L478.8,284.6L479.1,285.9L479.5,287.1L479.9,288.3L480.2,289.5L480.6,290.6L480.9,291.8L481.3,292.9L481.6,294.0L482.0,295.1L482.4,296.2L482.7,297.2L483.1,298.3L483.4,299.3L483.8,300.3L484.2,301.3L484.5,302.3L484.9,303.3L485.2,304.2L485.6,305.2L485.9,306.1L486.3,307.0L486.7,307.9L487.0,308.7L487.4,309.6L487.7,310.5L488.1,311.3L488.4,312.1L488.8,312.9L489.2,313.7L489.5,314.5L489.9,315.2L490.2,316.0L490.6,316.7L490.9,317.4L491.3,318.1L491.7,318.8L492.0,319.5L492.4,320.2L492.7,320.8L493.1,321.5L493.4,322.1L493.8,322.7L494.2,323.3L494.5,323.9L494.9,324.5L495.2,325.0L495.6,325.6L496.0,326.1L496.3,326.7L496.7,327.2L497.0,327.7L497.4,328.2L497.7,328.7L498.1,329.2L498.5,329.6L498.8,330.1L499.2,330.5L499.5,331.0L499.9,331.4L500.2,331.8L500.6,332.2L501.0,332.6L501.3,333.0L501.7,333.3L502.0,333.7L502.4,334.0L502.7,334.4L503.1,334.7L503.5,335.0L503.8,335.3L504.2,335.6L504.5,335.9L504.9,336.2L505.2,336.5L505.6,336.7L506.0,337.0L506.3,337.2L506.7,337.5L507.0,337.7L507.4,337.9L507.8,338.1L508.1,338.3L508.5,338.5L508.8,338.7L509.2,338.9L509.5,339.0L509.9,339.2L510.3,339.3L510.6,339.4L511.0,339.6L511.3,339.7L511.7,339.8L512.0,339.9L512.4,340.0L512.8,340.1L513.1,340.1L513.5,340.2L513.8,340.3L514.2,340.3L514.5,340.3L514.9,340.4L515.3,340.4L515.6,340.4L516.0,340.4L516.3,340.4L516.7,340.4L517.0,340.4L517.4,340.3L517.8,340.3L518.1,340.3L518.5,340.2L518.8,340.1L519.2,340.1L519.6,340.0L519.9,339.9L520.3,339.8L520.6,339.7L521.0,339.6L521.3,339.4L521.7,339.3L522.1,339.2L522.4,339.0L522.8,338.9L523.1,338.7L523.5,338.5L523.8,338.3L524.2,338.1L524.6,337.9L524.9,337.7L525.3,337.5L525.6,337.2L526.0,337.0L526.3,336.7L526.7,336.5L527.1,336.2L527.4,335.9L527.8,335.6L528.1,335.3L528.5,335.0L528.8,334.7L529.2,334.4L529.6,334.0L529.9,333.7L530.3,333.3L530.6,333.0L531.0,332.6L531.4,332.2L531.7,331.8L532.1,331.4L532.4,331.0L532.8,330.5L533.1,330.1L533.5,329.6L533.9,329.2L534.2,328.7L534.6,328.2L534.9,327.7L535.3,327.2L535.6,326.7L536.0,326.1L536.4,325.6L536.7,325.0L537.1,324.5L537.4,323.9L537.8,323.3L538.1,322.7L538.5,322.1L538.9,321.5L539.2,320.8L539.6,320.2L539.9,319.5L540.3,318.8L540.6,318.1L541.0,317.4L541.4,316.7L541.7,316.0L542.1,315.2L542.4,314.5L542.8,313.7L543.1,312.9L543.5,312.1L543.9,311.3L544.2,310.5L544.6,309.6L544.9,308.7L545.3,307.9L545.7,307.0L546.0,306.1L546.4,305.2L546.7,304.2L547.1,303.3L547.4,302.3L547.8,301.3L548.2,300.3L548.5,299.3L548.9,298.3L549.2,297.2L549.6,296.2L549.9,295.1L550.3,294.0L550.7,292.9L551.0,291.8L551.4,290.6L551.7,289.5L552.1,288.3L552.4,287.1L552.8,285.9L553.2,284.6L553.5,283.4L553.9,282.1L554.2,280.8L554.6,279.5L554.9,278.2L555.3,276.9L555.7,275.5L556.0,274.2L556.4,272.8L556.7,271.4L557.1,269.9L557.5,268.5L557.8,267.0L558.2,265.6L558.5,264.1L558.9,262.6L559.2,261.0L559.6,259.5L560.0,257.9L560.3,256.4L560.7,254.8L561.0,253.2L561.4,251.6L561.7,249.9L562.1,248.3L562.5,246.6L562.8,244.9L563.2,243.2L563.5,241.5L563.9,239.8L564.2,238.1L564.6,236.3L565.0,234.6L565.3,232.8L565.7,231.0L566.0,229.2L566.4,227.5L566.7,225.7L567.1,223.8L567.5,222.0L567.8,220.2L568.2,218.4L568.5,216.6L568.9,214.7L569.3,212.9L569.6,211.1L570.0,209.2L570.3,207.4L570.7,205.6L571.0,203.8L571.4,202.0L571.8,200.2L572.1,198.4L572.5,196.6L572.8,194.8L573.2,193.0L573.5,191.3L573.9,189.5L574.3,187.8L574.6,186.1L575.0,184.4L575.3,182.8L575.7,181.1L576.0,179.5L576.4,177.9L576.8,176.4L577.1,174.9L577.5,173.4L577.8,171.9L578.2,170.5L578.5,169.1L578.9,167.7L579.3,166.4L579.6,165.2L580.0,163.9L580.3,162.8L580.7,161.6L581.1,160.6L581.4,159.5L581.8,158.5L582.1,157.6L582.5,156.7L582.8,155.9L583.2,155.1L583.6,154.4L583.9,153.8L584.3,153.2L584.6,152.7L585.0,152.2L585.3,151.8L585.7,151.4L586.1,151.1L586.4,150.9L586.8,150.8L587.1,150.7L587.5,150.6L587.8,150.7L588.2,150.8L588.6,150.9L588.9,151.1L589.3,151.4L589.6,151.8L590.0,152.2L590.3,152.7L590.7,153.2L591.1,153.8L591.4,154.4L591.8,155.1L592.1,155.9L592.5,156.7L592.9,157.6L593.2,158.5L593.6,159.5L593.9,160.6L594.3,161.6L594.6,162.8L595.0,163.9L595.4,165.2L595.7,166.4L596.1,167.7L596.4,169.1L596.8,170.5L597.1,171.9L597.5,173.4L597.9,174.9L598.2,176.4L598.6,177.9L598.9,179.5L599.3,181.1L599.6,182.8L600.0,184.4L600.4,186.1L600.7,187.8L601.1,189.5L601.4,191.3L601.8,193.0L602.1,194.8L602.5,196.6L602.9,198.4L603.2,200.2L603.6,202.0L603.9,203.8L604.3,205.6L604.7,207.4L605.0,209.2L605.4,211.1L605.7,212.9L606.1,214.7L606.4,216.6L606.8,218.4L607.2,220.2L607.5,222.0L607.9,223.8L608.2,225.7L608.6,227.5L608.9,229.2L609.3,231.0L609.7,232.8L610.0,234.6L610.4,236.3L610.7,238.1L611.1,239.8L611.4,241.5L611.8,243.2L612.2,244.9L612.5,246.6L612.9,248.3L613.2,249.9L613.6,251.6L613.9,253.2L614.3,254.8L614.7,256.4L615.0,257.9L615.4,259.5L615.7,261.0L616.1,262.6L616.5,264.1L616.8,265.6L617.2,267.0L617.5,268.5L617.9,269.9L618.2,271.4L618.6,272.8L619.0,274.2L619.3,275.5L619.7,276.9L620.0,278.2L620.4,279.5L620.7,280.8L621.1,282.1L621.5,283.4L621.8,284.6L622.2,285.9L622.5,287.1L622.9,288.3L623.2,289.5L623.6,290.6L624.0,291.8L624.3,292.9L624.7,294.0L625.0,295.1L625.4,296.2L625.7,297.2L626.1,298.3L626.5,299.3L626.8,300.3L627.2,301.3L627.5,302.3L627.9,303.3L628.2,304.2L628.6,305.2L629.0,306.1L629.3,307.0L629.7,307.9L630.0,308.7L630.4,309.6L630.8,310.5L631.1,311.3L631.5,312.1L631.8,312.9L632.2,313.7L632.5,314.5L632.9,315.2L633.3,316.0L633.6,316.7L634.0,317.4L634.3,318.1L634.7,318.8L635.0,319.5L635.4,320.2L635.8,320.8L636.1,321.5L636.5,322.1L636.8,322.7L637.2,323.3L637.5,323.9L637.9,324.5L638.3,325.0L638.6,325.6L639.0,326.1L639.3,326.7L639.7,327.2L640.0,327.7L640.4,328.2L640.8,328.7L641.1,329.2L641.5,329.6L641.8,330.1L642.2,330.5L642.6,331.0L642.9,331.4L643.3,331.8L643.6,332.2L644.0,332.6L644.3,333.0L644.7,333.3L645.1,333.7L645.4,334.0L645.8,334.4L646.1,334.7L646.5,335.0L646.8,335.3L647.2,335.6L647.6,335.9L647.9,336.2L648.3,336.5L648.6,336.7L649.0,337.0L649.3,337.2L649.7,337.5L650.1,337.7L650.4,337.9L650.8,338.1L651.1,338.3L651.5,338.5L651.8,338.7L652.2,338.9L652.6,339.0L652.9,339.2L653.3,339.3L653.6,339.4L654.0,339.6L654.4,339.7L654.7,339.8L655.1,339.9L655.4,340.0L655.8,340.1L656.1,340.1L656.5,340.2L656.9,340.3L657.2,340.3L657.6,340.3L657.9,340.4L658.3,340.4L658.6,340.4L659.0,340.4" stroke="#F14040"/>
<path d="M86.9,439.7L87.3,439.7L87.6,439.7L88.0,439.7L88.3,439.7L88.7,439.7L89.0,439.7L89.4,439.6L89.8,439.6L90.1,439.6L90.5,439.6L90.8,439.6L91.2,439.6L91.5,439.6L91.9,439.6L92.3,439.5L92.6,439.5L93.0,439.5L93.3,439.5L93.7,439.4L94.1,439.4L94.4,439.4L94.8,439.4L95.1,439.3L95.5,439.3L95.8,439.3L96.2,439.2L96.6,439.2L96.9,439.2L97.3,439.1L97.6,439.1L98.0,439.1L98.3,439.0L98.7,439.0L99.1,438.9L99.4,438.9L99.8,438.8L100.1,438.8L100.5,438.7L100.8,438.7L101.2,438.6L101.6,438.6L101.9,438.5L102.3,438.4L102.6,438.4L103.0,438.3L103.3,438.2L103.7,438.2L104.1,438.1L104.4,438.0L104.8,438.0L105.1,437.9L105.5,437.8L105.9,437.7L106.2,437.6L106.6,437.6L106.9,437.5L107.3,437.4L107.6,437.3L108.0,437.2L108.4,437.1L108.7,437.0L109.1,436.9L109.4,436.8L109.8,436.7L110.1,436.6L110.5,436.4L110.9,436.3L111.2,436.2L111.6,436.1L111.9,436.0L112.3,435.8L112.6,435.7L113.0,435.5L113.4,435.4L113.7,435.3L114.1,435.1L114.4,435.0L114.8,434.8L115.1,434.6L115.5,434.5L115.9,434.3L116.2,434.1L116.6,433.9L116.9,433.8L117.3,433.6L117.7,433.4L118.0,433.2L118.4,433.0L118.7,432.7L119.1,432.5L119.4,432.3L119.8,432.1L120.2,431.8L120.5,431.6L120.9,431.3L121.2,431.1L121.6,430.8L121.9,430.5L122.3,430.3L122.7,430.0L123.0,429.7L123.4,429.4L123.7,429.0L124.1,428.7L124.4,428.4L124.8,428.0L125.2,427.7L125.5,427.3L125.9,426.9L126.2,426.5L126.6,426.1L126.9,425.7L127.3,425.3L127.7,424.8L128.0,424.4L128.4,423.9L128.7,423.4L129.1,422.9L129.4,422.4L129.8,421.8L130.2,421.3L130.5,420.7L130.9,420.1L131.2,419.4L131.6,418.8L132.0,418.1L132.3,417.4L132.7,416.7L133.0,416.0L133.4,415.2L133.7,414.4L134.1,413.6L134.5,412.7L134.8,411.8L135.2,410.8L135.5,409.9L135.9,408.9L136.2,407.8L136.6,406.7L137.0,405.6L137.3,404.4L137.7,403.1L138.0,401.8L138.4,400.5L138.7,399.1L139.1,397.6L139.5,396.0L139.8,394.4L140.2,392.8L140.5,391.0L140.9,389.2L141.2,387.2L141.6,385.2L142.0,383.1L142.3,380.9L142.7,378.6L143.0,376.1L143.4,373.6L143.8,370.9L144.1,368.1L144.5,365.1L144.8,362.0L145.2,358.8L145.5,355.4L145.9,351.8L146.3,348.0L146.6,344.1L147.0,339.9L147.3,335.5L147.7,331.0L148.0,326.1L148.4,321.1L148.8,315.8L149.1,310.3L149.5,304.5L149.8,298.5L150.2,292.2L150.5,285.6L150.9,278.8L151.3,271.8L151.6,264.5L152.0,257.1L152.3,249.4L152.7,241.6L153.0,233.7L153.4,225.7L153.8,217.7L154.1,209.8L154.5,201.9L154.8,194.4L155.2,187.1L155.6,180.2L155.9,173.8L156.3,168.0L156.6,162.9L157.0,158.6L157.3,155.2L157.7,152.7L158.1,151.1L158.4,150.6L158.8,151.1L159.1,152.7L159.5,155.2L159.8,158.6L160.2,162.9L160.6,168.0L160.9,173.8L161.3,180.2L161.6,187.1L162.0,194.4L162.3,201.9L162.7,209.8L163.1,217.7L163.4,225.7L163.8,233.7L164.1,241.6L164.5,249.4L164.8,257.1L165.2,264.5L165.6,271.8L165.9,278.8L166.3,285.6L166.6,292.2L167.0,298.5L167.4,304.5L167.7,310.3L168.1,315.8L168.4,321.1L168.8,326.1L169.1,331.0L169.5,335.5L169.9,339.9L170.2,344.1L170.6,348.0L170.9,351.8L171.3,355.4L171.6,358.8L172.0,362.0L172.4,365.1L172.7,368.1L173.1,370.9L173.4,373.6L173.8,376.1L174.1,378.6L174.5,380.9L174.9,383.1L175.2,385.2L175.6,387.2L175.9,389.2L176.3,391.0L176.6,392.8L177.0,394.4L177.4,396.0L177.7,397.6L178.1,399.1L178.4,400.5L178.8,401.8L179.2,403.1L179.5,404.4L179.9,405.6L180.2,406.7L180.6,407.8L180.9,408.9L181.3,409.9L181.7,410.8L182.0,411.8L182.4,412.7L182.7,413.6L183.1,414.4L183.4,415.2L183.8,416.0L184.2,416.7L184.5,417.4L184.9,418.1L185.2,418.8L185.6,419.4L185.9,420.1L186.3,420.7L186.7,421.3L187.0,421.8L187.4,422.4L187.7,422.9L188.1,423.4L188.4,423.9L188.8,424.4L189.2,424.8L189.5,425.3L189.9,425.7L190.2,426.1L190.6,426.5L191.0,426.9L191.3,427.3L191.7,427.7L192.0,428.0L192.4,428.4L192.7,428.7L193.1,429.0L193.5,429.4L193.8,429.7L194.2,430.0L194.5,430.3L194.9,430.5L195.2,430.8L195.6,431.1L196.0,431.3L196.3,431.6L196.7,431.8L197.0,432.1L197.4,432.3L197.7,432.5L198.1,432.7L198.5,433.0L198.8,433.2L199.2,433.4L199.5,433.6L199.9,433.8L200.2,433.9L200.6,434.1L201.0,434.3L201.3,434.5L201.7,434.6L202.0,434.8L202.4,435.0L202.8,435.1L203.1,435.3L203.5,435.4L203.8,435.5L204.2,435.7L204.5,435.8L204.9,436.0L205.3,436.1L205.6,436.2L206.0,436.3L206.3,436.4L206.7,436.6L207.0,436.7L207.4,436.8L207.8,436.9L208.1,437.0L208.5,437.1L208.8,437.2L209.2,437.3L209.5,437.4L209.9,437.5L210.3,437.6L210.6,437.6L211.0,437.7L211.3,437.8L211.7,437.9L212.0,438.0L212.4,438.0L212.8,438.1L213.1,438.2L213.5,438.2L213.8,438.3L214.2,438.4L214.5,438.4L214.9,438.5L215.3,438.6L215.6,438.6L216.0,438.7L216.3,438.7L216.7,438.8L217.1,438.8L217.4,438.9L217.8,438.9L218.1,439.0L218.5,439.0L218.8,439.1L219.2,439.1L219.6,439.1L219.9,439.2L220.3,439.2L220.6,439.2L221.0,439.3L221.3,439.3L221.7,439.3L222.1,439.4L222.4,439.4L222.8,439.4L223.1,439.4L223.5,439.5L223.8,439.5L224.2,439.5L224.6,439.5L224.9,439.6L225.3,439.6L225.6,439.6L226.0,439.6L226.3,439.6L226.7,439.6L227.1,439.6L227.4,439.6L227.8,439.7L228.1,439.7L228.5,439.7L228.9,439.7L229.2,439.7L229.6,439.7L229.9,439.7L230.3,439.7L230.6,439.7L231.0,439.7L231.4,439.7L231.7,439.7L232.1,439.7L232.4,439.6L232.8,439.6L233.1,439.6L233.5,439.6L233.9,439.6L234.2,439.6L234.6,439.6L234.9,439.6L235.3,439.5L235.6,439.5L236.0,439.5L236.4,439.5L236.7,439.4L237.1,439.4L237.4,439.4L237.8,439.4L238.1,439.3L238.5,439.3L238.9,439.3L239.2,439.2L239.6,439.2L239.9,439.2L240.3,439.1L240.7,439.1L241.0,439.1L241.4,439.0L241.7,439.0L242.1,438.9L242.4,438.9L242.8,438.8L243.2,438.8L243.5,438.7L243.9,438.7L244.2,438.6L244.6,438.6L244.9,438.5L245.3,438.4L245.7,438.4L246.0,438.3L246.4,438.2L246.7,438.2L247.1,438.1L247.4,438.0L247.8,438.0L248.2,437.9L248.5,437.8L248.9,437.7L249.2,437.6L249.6,437.6L249.9,437.5L250.3,437.4L250.7,437.3L251.0,437.2L251.4,437.1L251.7,437.0L252.1,436.9L252.5,436.8L252.8,436.7L253.2,436.6L253.5,436.4L253.9,436.3L254.2,436.2L254.6,436.1L255.0,436.0L255.3,435.8L255.7,435.7L256.0,435.5L256.4,435.4L256.7,435.3L257.1,435.1L257.5,435.0L257.8,434.8L258.2,434.6L258.5,434.5L258.9,434.3L259.2,434.1L259.6,433.9L260.0,433.8L260.3,433.6L260.7,433.4L261.0,433.2L261.4,433.0L261.7,432.7L262.1,432.5L262.5,432.3L262.8,432.1L263.2,431.8L263.5,431.6L263.9,431.3L264.3,431.1L264.6,430.8L265.0,430.5L265.3,430.3L265.7,430.0L266.0,429.7L266.4,429.4L266.8,429.0L267.1,428.7L267.5,428.4L267.8,428.0L268.2,427.7L268.5,427.3L268.9,426.9L269.3,426.5L269.6,426.1L270.0,425.7L270.3,425.3L270.7,424.8L271.0,424.4L271.4,423.9L271.8,423.4L272.1,422.9L272.5,422.4L272.8,421.8L273.2,421.3L273.5,420.7L273.9,420.1L274.3,419.4L274.6,418.8L275.0,418.1L275.3,417.4L275.7,416.7L276.1,416.0L276.4,415.2L276.8,414.4L277.1,413.6L277.5,412.7L277.8,411.8L278.2,410.8L278.6,409.9L278.9,408.9L279.3,407.8L279.6,406.7L280.0,405.6L280.3,404.4L280.7,403.1L281.1,401.8L281.4,400.5L281.8,399.1L282.1,397.6L282.5,396.0L282.8,394.4L283.2,392.8L283.6,391.0L283.9,389.2L284.3,387.2L284.6,385.2L285.0,383.1L285.3,380.9L285.7,378.6L286.1,376.1L286.4,373.6L286.8,370.9L287.1,368.1L287.5,365.1L287.9,362.0L288.2,358.8L288.6,355.4L288.9,351.8L289.3,348.0L289.6,344.1L290.0,339.9L290.4,335.5L290.7,331.0L291.1,326.1L291.4,321.1L291.8,315.8L292.1,310.3L292.5,304.5L292.9,298.5L293.2,292.2L293.6,285.6L293.9,278.8L294.3,271.8L294.6,264.5L295.0,257.1L295.4,249.4L295.7,241.6L296.1,233.7L296.4,225.7L296.8,217.7L297.1,209.8L297.5,201.9L297.9,194.4L298.2,187.1L298.6,180.2L298.9,173.8L299.3,168.0L299.6,162.9L300.0,158.6L300.4,155.2L300.7,152.7L301.1,151.1L301.4,150.6L301.8,151.1L302.2,152.7L302.5,155.2L302.9,158.6L303.2,162.9L303.6,168.0L303.9,173.8L304.3,180.2L304.7,187.1L305.0,194.4L305.4,201.9L305.7,209.8L306.1,217.7L306.4,225.7L306.8,233.7L307.2,241.6L307.5,249.4L307.9,257.1L308.2,264.5L308.6,271.8L308.9,278.8L309.3,285.6L309.7,292.2L310.0,298.5L310.4,304.5L310.7,310.3L311.1,315.8L311.4,321.1L311.8,326.1L312.2,331.0L312.5,335.5L312.9,339.9L313.2,344.1L313.6,348.0L314.0,351.8L314.3,355.4L314.7,358.8L315.0,362.0L315.4,365.1L315.7,368.1L316.1,370.9L316.5,373.6L316.8,376.1L317.2,378.6L317.5,380.9L317.9,383.1L318.2,385.2L318.6,387.2L319.0,389.2L319.3,391.0L319.7,392.8L320.0,394.4L320.4,396.0L320.7,397.6L321.1,399.1L321.5,400.5L321.8,401.8L322.2,403.1L322.5,404.4L322.9,405.6L323.2,406.7L323.6,407.8L324.0,408.9L324.3,409.9L324.7,410.8L325.0,411.8L325.4,412.7L325.8,413.6L326.1,414.4L326.5,415.2L326.8,416.0L327.2,416.7L327.5,417.4L327.9,418.1L328.3,418.8L328.6,419.4L329.0,420.1L329.3,420.7L329.7,421.3L330.0,421.8L330.4,422.4L330.8,422.9L331.1,423.4L331.5,423.9L331.8,424.4L332.2,424.8L332.5,425.3L332.9,425.7L333.3,426.1L333.6,426.5L334.0,426.9L334.3,427.3L334.7,427.7L335.0,428.0L335.4,428.4L335.8,428.7L336.1,429.0L336.5,429.4L336.8,429.7L337.2,430.0L337.6,430.3L337.9,430.5L338.3,430.8L338.6,431.1L339.0,431.3L339.3,431.6L339.7,431.8L340.1,432.1L340.4,432.3L340.8,432.5L341.1,432.7L341.5,433.0L341.8,433.2L342.2,433.4L342.6,433.6L342.9,433.8L343.3,433.9L343.6,434.1L344.0,434.3L344.3,434.5L344.7,434.6L345.1,434.8L345.4,435.0L345.8,435.1L346.1,435.3L346.5,435.4L346.8,435.5L347.2,435.7L347.6,435.8L347.9,436.0L348.3,436.1L348.6,436.2L349.0,436.3L349.4,436.4L349.7,436.6L350.1,436.7L350.4,436.8L350.8,436.9L351.1,437.0L351.5,437.1L351.9,437.2L352.2,437.3L352.6,437.4L352.9,437.5L353.3,437.6L353.6,437.6L354.0,437.7L354.4,437.8L354.7,437.9L355.1,438.0L355.4,438.0L355.8,438.1L356.1,438.2L356.5,438.2L356.9,438.3L357.2,438.4L357.6,438.4L357.9,438.5L358.3,438.6L358.6,438.6L359.0,438.7L359.4,438.7L359.7,438.8L360.1,438.8L360.4,438.9L360.8,438.9L361.2,439.0L361.5,439.0L361.9,439.1L362.2,439.1L362.6,439.1L362.9,439.2L363.3,439.2L363.7,439.2L364.0,439.3L364.4,439.3L364.7,439.3L365.1,439.4L365.4,439.4L365.8,439.4L366.2,439.4L366.5,439.5L366.9,439.5L367.2,439.5L367.6,439.5L367.9,439.6L368.3,439.6L368.7,439.6L369.0,439.6L369.4,439.6L369.7,439.6L370.1,439.6L370.4,439.6L370.8,439.7L371.2,439.7L371.5,439.7L371.9,439.7L372.2,439.7L372.6,439.7L373.0,439.7L373.3,439.7L373.7,439.7L374.0,439.7L374.4,439.7L374.7,439.7L375.1,439.7L375.5,439.6L375.8,439.6L376.2,439.6L376.5,439.6L376.9,439.6L377.2,439.6L377.6,439.6L378.0,439.6L378.3,439.5L378.7,439.5L379.0,439.5L379.4,439.5L379.7,439.4L380.1,439.4L380.5,439.4L380.8,439.4L381.2,439.3L381.5,439.3L381.9,439.3L382.2,439.2L382.6,439.2L383.0,439.2L383.3,439.1L383.7,439.1L384.0,439.1L384.4,439.0L384.7,439.0L385.1,438.9L385.5,438.9L385.8,438.8L386.2,438.8L386.5,438.7L386.9,438.7L387.3,438.6L387.6,438.6L388.0,438.5L388.3,438.4L388.7,438.4L389.0,438.3L389.4,438.2L389.8,438.2L390.1,438.1L390.5,438.0L390.8,438.0L391.2,437.9L391.5,437.8L391.9,437.7L392.3,437.6L392.6,437.6L393.0,437.5L393.3,437.4L393.7,437.3L394.0,437.2L394.4,437.1L394.8,437.0L395.1,436.9L395.5,436.8L395.8,436.7L396.2,436.6L396.5,436.4L396.9,436.3L397.3,436.2L397.6,436.1L398.0,436.0L398.3,435.8L398.7,435.7L399.1,435.5L399.4,435.4L399.8,435.3L400.1,435.1L400.5,435.0L400.8,434.8L401.2,434.6L401.6,434.5L401.9,434.3L402.3,434.1L402.6,433.9L403.0,433.8L403.3,433.6L403.7,433.4L404.1,433.2L404.4,433.0L404.8,432.7L405.1,432.5L405.5,432.3L405.8,432.1L406.2,431.8L406.6,431.6L406.9,431.3L407.3,431.1L407.6,430.8L408.0,430.5L408.3,430.3L408.7,430.0L409.1,429.7L409.4,429.4L409.8,429.0L410.1,428.7L410.5,428.4L410.9,428.0L411.2,427.7L411.6,427.3L411.9,426.9L412.3,426.5L412.6,426.1L413.0,425.7L413.4,425.3L413.7,424.8L414.1,424.4L414.4,423.9L414.8,423.4L415.1,422.9L415.5,422.4L415.9,421.8L416.2,421.3L416.6,420.7L416.9,420.1L417.3,419.4L417.6,418.8L418.0,418.1L418.4,417.4L418.7,416.7L419.1,416.0L419.4,415.2L419.8,414.4L420.1,413.6L420.5,412.7L420.9,411.8L421.2,410.8L421.6,409.9L421.9,408.9L422.3,407.8L422.7,406.7L423.0,405.6L423.4,404.4L423.7,403.1L424.1,401.8L424.4,400.5L424.8,399.1L425.2,397.6L425.5,396.0L425.9,394.4L426.2,392.8L426.6,391.0L426.9,389.2L427.3,387.2L427.7,385.2L428.0,383.1L428.4,380.9L428.7,378.6L429.1,376.1L429.4,373.6L429.8,370.9L430.2,368.1L430.5,365.1L430.9,362.0L431.2,358.8L431.6,355.4L431.9,351.8L432.3,348.0L432.7,344.1L433.0,339.9L433.4,335.5L433.7,331.0L434.1,326.1L434.5,321.1L434.8,315.8L435.2,310.3L435.5,304.5L435.9,298.5L436.2,292.2L436.6,285.6L437.0,278.8L437.3,271.8L437.7,264.5L438.0,257.1L438.4,249.4L438.7,241.6L439.1,233.7L439.5,225.7L439.8,217.7L440.2,209.8L440.5,201.9L440.9,194.4L441.2,187.1L441.6,180.2L442.0,173.8L442.3,168.0L442.7,162.9L443.0,158.6L443.4,155.2L443.7,152.7L444.1,151.1L444.5,150.6L444.8,151.1L445.2,152.7L445.5,155.2L445.9,158.6L446.3,162.9L446.6,168.0L447.0,173.8L447.3,180.2L447.7,187.1L448.0,194.4L448.4,201.9L448.8,209.8L449.1,217.7L449.5,225.7L449.8,233.7L450.2,241.6L450.5,249.4L450.9,257.1L451.3,264.5L451.6,271.8L452.0,278.8L452.3,285.6L452.7,292.2L453.0,298.5L453.4,304.5L453.8,310.3L454.1,315.8L454.5,321.1L454.8,326.1L455.2,331.0L455.5,335.5L455.9,339.9L456.3,344.1L456.6,348.0L457.0,351.8L457.3,355.4L457.7,358.8L458.0,362.0L458.4,365.1L458.8,368.1L459.1,370.9L459.5,373.6L459.8,376.1L460.2,378.6L460.6,380.9L460.9,383.1L461.3,385.2L461.6,387.2L462.0,389.2L462.3,391.0L462.7,392.8L463.1,394.4L463.4,396.0L463.8,397.6L464.1,399.1L464.5,400.5L464.8,401.8L465.2,403.1L465.6,404.4L465.9,405.6L466.3,406.7L466.6,407.8L467.0,408.9L467.3,409.9L467.7,410.8L468.1,411.8L468.4,412.7L468.8,413.6L469.1,414.4L469.5,415.2L469.8,416.0L470.2,416.7L470.6,417.4L470.9,418.1L471.3,418.8L471.6,419.4L472.0,420.1L472.4,420.7L472.7,421.3L473.1,421.8L473.4,422.4L473.8,422.9L474.1,423.4L474.5,423.9L474.9,424.4L475.2,424.8L475.6,425.3L475.9,425.7L476.3,426.1L476.6,426.5L477.0,426.9L477.4,427.3L477.7,427.7L478.1,428.0L478.4,428.4L478.8,428.7L479.1,429.0L479.5,429.4L479.9,429.7L480.2,430.0L480.6,430.3L480.9,430.5L481.3,430.8L481.6,431.1L482.0,431.3L482.4,431.6L482.7,431.8L483.1,432.1L483.4,432.3L483.8,432.5L484.2,432.7L484.5,433.0L484.9,433.2L485.2,433.4L485.6,433.6L485.9,433.8L486.3,433.9L486.7,434.1L487.0,434.3L487.4,434.5L487.7,434.6L488.1,434.8L488.4,435.0L488.8,435.1L489.2,435.3L489.5,435.4L489.9,435.5L490.2,435.7L490.6,435.8L490.9,436.0L491.3,436.1L491.7,436.2L492.0,436.3L492.4,436.4L492.7,436.6L493.1,436.7L493.4,436.8L493.8,436.9L494.2,437.0L494.5,437.1L494.9,437.2L495.2,437.3L495.6,437.4L496.0,437.5L496.3,437.6L496.7,437.6L497.0,437.7L497.4,437.8L497.7,437.9L498.1,438.0L498.5,438.0L498.8,438.1L499.2,438.2L499.5,438.2L499.9,438.3L500.2,438.4L500.6,438.4L501.0,438.5L501.3,438.6L501.7,438.6L502.0,438.7L502.4,438.7L502.7,438.8L503.1,438.8L503.5,438.9L503.8,438.9L504.2,439.0L504.5,439.0L504.9,439.1L505.2,439.1L505.6,439.1L506.0,439.2L506.3,439.2L506.7,439.2L507.0,439.3L507.4,439.3L507.8,439.3L508.1,439.4L508.5,439.4L508.8,439.4L509.2,439.4L509.5,439.5L509.9,439.5L510.3,439.5L510.6,439.5L511.0,439.6L511.3,439.6L511.7,439.6L512.0,439.6L512.4,439.6L512.8,439.6L513.1,439.6L513.5,439.6L513.8,439.7L514.2,439.7L514.5,439.7L514.9,439.7L515.3,439.7L515.6,439.7L516.0,439.7L516.3,439.7L516.7,439.7L517.0,439.7L517.4,439.7L517.8,439.7L518.1,439.7L518.5,439.6L518.8,439.6L519.2,439.6L519.6,439.6L519.9,439.6L520.3,439.6L520.6,439.6L521.0,439.6L521.3,439.5L521.7,439.5L522.1,439.5L522.4,439.5L522.8,439.4L523.1,439.4L523.5,439.4L523.8,439.4L524.2,439.3L524.6,439.3L524.9,439.3L525.3,439.2L525.6,439.2L526.0,439.2L526.3,439.1L526.7,439.1L527.1,439.1L527.4,439.0L527.8,439.0L528.1,438.9L528.5,438.9L528.8,438.8L529.2,438.8L529.6,438.7L529.9,438.7L530.3,438.6L530.6,438.6L531.0,438.5L531.4,438.4L531.7,438.4L532.1,438.3L532.4,438.2L532.8,438.2L533.1,438.1L533.5,438.0L533.9,438.0L534.2,437.9L534.6,437.8L534.9,437.7L535.3,437.6L535.6,437.6L536.0,437.5L536.4,437.4L536.7,437.3L537.1,437.2L537.4,437.1L537.8,437.0L538.1,436.9L538.5,436.8L538.9,436.7L539.2,436.6L539.6,436.4L539.9,436.3L540.3,436.2L540.6,436.1L541.0,436.0L541.4,435.8L541.7,435.7L542.1,435.5L542.4,435.4L542.8,435.3L543.1,435.1L543.5,435.0L543.9,434.8L544.2,434.6L544.6,434.5L544.9,434.3L545.3,434.1L545.7,433.9L546.0,433.8L546.4,433.6L546.7,433.4L547.1,433.2L547.4,433.0L547.8,432.7L548.2,432.5L548.5,432.3L548.9,432.1L549.2,431.8L549.6,431.6L549.9,431.3L550.3,431.1L550.7,430.8L551.0,430.5L551.4,430.3L551.7,430.0L552.1,429.7L552.4,429.4L552.8,429.0L553.2,428.7L553.5,428.4L553.9,428.0L554.2,427.7L554.6,427.3L554.9,426.9L555.3,426.5L555.7,426.1L556.0,425.7L556.4,425.3L556.7,424.8L557.1,424.4L557.5,423.9L557.8,423.4L558.2,422.9L558.5,422.4L558.9,421.8L559.2,421.3L559.6,420.7L560.0,420.1L560.3,419.4L560.7,418.8L561.0,418.1L561.4,417.4L561.7,416.7L562.1,416.0L562.5,415.2L562.8,414.4L563.2,413.6L563.5,412.7L563.9,411.8L564.2,410.8L564.6,409.9L565.0,408.9L565.3,407.8L565.7,406.7L566.0,405.6L566.4,404.4L566.7,403.1L567.1,401.8L567.5,400.5L567.8,399.1L568.2,397.6L568.5,396.0L568.9,394.4L569.3,392.8L569.6,391.0L570.0,389.2L570.3,387.2L570.7,385.2L571.0,383.1L571.4,380.9L571.8,378.6L572.1,376.1L572.5,373.6L572.8,370.9L573.2,368.1L573.5,365.1L573.9,362.0L574.3,358.8L574.6,355.4L575.0,351.8L575.3,348.0L575.7,344.1L576.0,339.9L576.4,335.5L576.8,331.0L577.1,326.1L577.5,321.1L577.8,315.8L578.2,310.3L578.5,304.5L578.9,298.5L579.3,292.2L579.6,285.6L580.0,278.8L580.3,271.8L580.7,264.5L581.1,257.1L581.4,249.4L581.8,241.6L582.1,233.7L582.5,225.7L582.8,217.7L583.2,209.8L583.6,201.9L583.9,194.4L584.3,187.1L584.6,180.2L585.0,173.8L585.3,168.0L585.7,162.9L586.1,158.6L586.4,155.2L586.8,152.7L587.1,151.1L587.5,150.6L587.8,151.1L588.2,152.7L588.6,155.2L588.9,158.6L589.3,162.9L589.6,168.0L590.0,173.8L590.3,180.2L590.7,187.1L591.1,194.4L591.4,201.9L591.8,209.8L592.1,217.7L592.5,225.7L592.9,233.7L593.2,241.6L593.6,249.4L593.9,257.1L594.3,264.5L594.6,271.8L595.0,278.8L595.4,285.6L595.7,292.2L596.1,298.5L596.4,304.5L596.8,310.3L597.1,315.8L597.5,321.1L597.9,326.1L598.2,331.0L598.6,335.5L598.9,339.9L599.3,344.1L599.6,348.0L600.0,351.8L600.4,355.4L600.7,358.8L601.1,362.0L601.4,365.1L601.8,368.1L602.1,370.9L602.5,373.6L602.9,376.1L603.2,378.6L603.6,380.9L603.9,383.1L604.3,385.2L604.7,387.2L605.0,389.2L605.4,391.0L605.7,392.8L606.1,394.4L606.4,396.0L606.8,397.6L607.2,399.1L607.5,400.5L607.9,401.8L608.2,403.1L608.6,404.4L608.9,405.6L609.3,406.7L609.7,407.8L610.0,408.9L610.4,409.9L610.7,410.8L611.1,411.8L611.4,412.7L611.8,413.6L612.2,414.4L612.5,415.2L612.9,416.0L613.2,416.7L613.6,417.4L613.9,418.1L614.3,418.8L614.7,419.4L615.0,420.1L615.4,420.7L615.7,421.3L616.1,421.8L616.5,422.4L616.8,422.9L617.2,423.4L617.5,423.9L617.9,424.4L618.2,424.8L618.6,425.3L619.0,425.7L619.3,426.1L619.7,426.5L620.0,426.9L620.4,427.3L620.7,427.7L621.1,428.0L621.5,428.4L621.8,428.7L622.2,429.0L622.5,429.4L622.9,429.7L623.2,430.0L623.6,430.3L624.0,430.5L624.3,430.8L624.7,431.1L625.0,431.3L625.4,431.6L625.7,431.8L626.1,432.1L626.5,432.3L626.8,432.5L627.2,432.7L627.5,433.0L627.9,433.2L628.2,433.4L628.6,433.6L629.0,433.8L629.3,433.9L629.7,434.1L630.0,434.3L630.4,434.5L630.8,434.6L631.1,434.8L631.5,435.0L631.8,435.1L632.2,435.3L632.5,435.4L632.9,435.5L633.3,435.7L633.6,435.8L634.0,436.0L634.3,436.1L634.7,436.2L635.0,436.3L635.4,436.4L635.8,436.6L636.1,436.7L636.5,436.8L636.8,436.9L637.2,437.0L637.5,437.1L637.9,437.2L638.3,437.3L638.6,437.4L639.0,437.5L639.3,437.6L639.7,437.6L640.0,437.7L640.4,437.8L640.8,437.9L641.1,438.0L641.5,438.0L641.8,438.1L642.2,438.2L642.6,438.2L642.9,438.3L643.3,438.4L643.6,438.4L644.0,438.5L644.3,438.6L644.7,438.6L645.1,438.7L645.4,438.7L645.8,438.8L646.1,438.8L646.5,438.9L646.8,438.9L647.2,439.0L647.6,439.0L647.9,439.1L648.3,439.1L648.6,439.1L649.0,439.2L649.3,439.2L649.7,439.2L650.1,439.3L650.4,439.3L650.8,439.3L651.1,439.4L651.5,439.4L651.8,439.4L652.2,439.4L652.6,439.5L652.9,439.5L653.3,439.5L653.6,439.5L654.0,439.6L654.4,439.6L654.7,439.6L655.1,439.6L655.4,439.6L655.8,439.6L656.1,439.6L656.5,439.6L656.9,439.7L657.2,439.7L657.6,439.7L657.9,439.7L658.3,439.7L658.6,439.7L659.0,439.7" stroke="#1A6FDF"/>
</g>
<path d="M86.90,474.10V465.40M86.90,12.00V20.70M158.41,474.10V469.70M158.41,12.00V16.40M229.93,474.10V465.40M229.93,12.00V20.70M301.44,474.10V469.70M301.44,12.00V16.40M372.95,474.10V465.40M372.95,12.00V20.70M444.46,474.10V469.70M444.46,12.00V16.40M515.98,474.10V465.40M515.98,12.00V20.70M587.49,474.10V469.70M587.49,12.00V16.40M659.00,474.10V465.40M659.00,12.00V20.70M86.90,474.10H95.60M659.00,474.10H650.30M86.90,451.00H91.30M659.00,451.00H654.60M86.90,427.89H95.60M659.00,427.89H650.30M86.90,404.79H91.30M659.00,404.79H654.60M86.90,381.68H95.60M659.00,381.68H650.30M86.90,358.57H91.30M659.00,358.57H654.60M86.90,335.47H95.60M659.00,335.47H650.30M86.90,312.37H91.30M659.00,312.37H654.60M86.90,289.26H95.60M659.00,289.26H650.30M86.90,266.15H91.30M659.00,266.15H654.60M86.90,243.05H95.60M659.00,243.05H650.30M86.90,219.94H91.30M659.00,219.94H654.60M86.90,196.84H95.60M659.00,196.84H650.30M86.90,173.74H91.30M659.00,173.74H654.60M86.90,150.63H95.60M659.00,150.63H650.30M86.90,127.52H91.30M659.00,127.52H654.60M86.90,104.42H95.60M659.00,104.42H650.30M86.90,81.31H91.30M659.00,81.31H654.60M86.90,58.21H95.60M659.00,58.21H650.30M86.90,35.11H91.30M659.00,35.11H654.60M86.90,12.00H95.60M659.00,12.00H650.30" stroke="#000" stroke-width="1.90" fill="none"/>
<rect x="86.90" y="12.00" width="572.10" height="462.10" fill="none" stroke="#000" stroke-width="1.90"/>
<text transform="translate(86.90,508.00) scale(0.9700,1)" font-size="31.00" text-anchor="middle">0.00</text>
<text transform="translate(229.93,508.00) scale(0.9700,1)" font-size="31.00" text-anchor="middle">0.01</text>
<text transform="translate(372.95,508.00) scale(0.9700,1)" font-size="31.00" text-anchor="middle">0.02</text>
<text transform="translate(515.98,508.00) scale(0.9700,1)" font-size="31.00" text-anchor="middle">0.03</text>
<text transform="translate(659.00,508.00) scale(0.9700,1)" font-size="31.00" text-anchor="middle">0.04</text>
<text transform="translate(75.90,483.90) scale(0.9700,1)" font-size="31.00" text-anchor="end">0.3</text>
<text transform="translate(75.90,437.69) scale(0.9700,1)" font-size="31.00" text-anchor="end">0.4</text>
<text transform="translate(75.90,391.48) scale(0.9700,1)" font-size="31.00" text-anchor="end">0.5</text>
<text transform="translate(75.90,345.27) scale(0.9700,1)" font-size="31.00" text-anchor="end">0.6</text>
<text transform="translate(75.90,299.06) scale(0.9700,1)" font-size="31.00" text-anchor="end">0.7</text>
<text transform="translate(75.90,252.85) scale(0.9700,1)" font-size="31.00" text-anchor="end">0.8</text>
<text transform="translate(75.90,206.64) scale(0.9700,1)" font-size="31.00" text-anchor="end">0.9</text>
<text transform="translate(75.90,160.43) scale(0.9700,1)" font-size="31.00" text-anchor="end">1.0</text>
<text transform="translate(75.90,114.22) scale(0.9700,1)" font-size="31.00" text-anchor="end">1.1</text>
<text transform="translate(75.90,68.01) scale(0.9700,1)" font-size="31.00" text-anchor="end">1.2</text>
<text transform="translate(75.90,21.80) scale(0.9700,1)" font-size="31.00" text-anchor="end">1.3</text>
<text transform="translate(373.00,557.70) scale(1.0000,1)" font-size="30.60" text-anchor="middle"><tspan font-style="italic">t</tspan> (s)</text>
<text transform="translate(21.4,369.0) rotate(-90)" font-size="30.60">Normalized</text>
<text transform="translate(20.9,210.0) rotate(-90)" font-size="30.60"><tspan font-style="italic">I</tspan><tspan font-size="19.89" dy="7">p</tspan><tspan dy="-7"> (a.u.)</tspan></text>
<rect x="391.8" y="22.6" width="254.3" height="118.85" fill="#fff" stroke="#222" stroke-width="1.15"/>
<path d="M396,40.00H447.3" stroke="#5a5a5a" stroke-width="3.1" stroke-linecap="round"/>
<text transform="translate(460.00,49.00) scale(1.0290,1)" font-size="25.60" text-anchor="start">Ω<tspan font-size="16.64" dy="7">c</tspan><tspan dy="-7">=2π×1.74MHz</tspan></text>
<path d="M396,78.50H447.3" stroke="#F14040" stroke-width="3.1" stroke-linecap="round"/>
<text transform="translate(460.00,87.50) scale(1.0290,1)" font-size="25.60" text-anchor="start">Ω<tspan font-size="16.64" dy="7">c</tspan><tspan dy="-7">=2π×1.95MHz</tspan></text>
<path d="M396,117.00H447.3" stroke="#1A6FDF" stroke-width="3.1" stroke-linecap="round"/>
<text transform="translate(460.00,126.00) scale(1.0290,1)" font-size="25.60" text-anchor="start">Ω<tspan font-size="16.64" dy="7">c</tspan><tspan dy="-7">=2π×2.16MHz</tspan></text>
</svg></body></html>
